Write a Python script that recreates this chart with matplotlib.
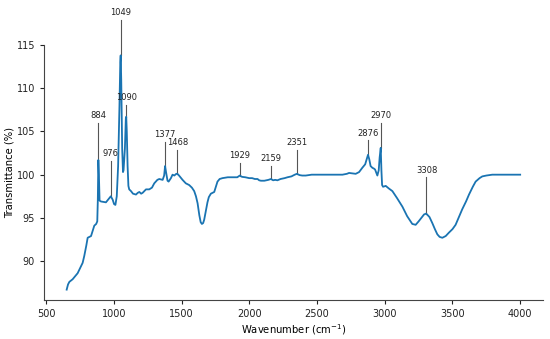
import numpy as np
import matplotlib
matplotlib.use("Agg")
import matplotlib.pyplot as plt

wavenumber = [650, 660, 670, 694, 731, 768, 780, 795, 805, 830, 854, 868, 876, 880, 884, 888, 893, 903,
              940, 960, 976, 990, 1000, 1010, 1020, 1030, 1040, 1046, 1049, 1053, 1060, 1066, 1070, 1080,
              1087, 1090, 1094, 1100, 1106, 1112, 1125, 1140, 1162, 1175, 1187, 1200, 1211, 1236, 1260,
              1280, 1297, 1320, 1334, 1359, 1370, 1377, 1385, 1395, 1403, 1420, 1432, 1445, 1460, 1468,
              1480, 1506, 1530, 1555, 1575, 1592, 1605, 1617, 1630, 1640, 1649, 1658, 1666, 1680, 1690,
              1700, 1715, 1740, 1752, 1764, 1780, 1801, 1840, 1875, 1910, 1929, 1945, 1970, 1998, 2020,
              2040, 2060, 2072, 2085, 2110, 2140, 2159, 2175, 2190, 2207, 2230, 2260, 2281, 2310, 2335,
              2351, 2370, 2390, 2416, 2440, 2460, 2490, 2550, 2600, 2650, 2687, 2720, 2736, 2760, 2785,
              2810, 2834, 2855, 2868, 2876, 2885, 2895, 2908, 2920, 2928, 2945, 2955, 2962, 2970, 2975,
              2980, 2987, 3007, 3030, 3056, 3090, 3130, 3165, 3203, 3228, 3250, 3265, 3290, 3306, 3330,
              3351, 3370, 3388, 3405, 3425, 3450, 3474, 3500, 3523, 3550, 3572, 3600, 3622, 3650, 3671,
              3700, 3720, 3750, 3794, 3850, 3900, 3950, 4000]
transmittance = [86.7, 87.3, 87.6, 87.9, 88.6, 89.8, 90.6, 91.8, 92.7, 92.9, 94.1, 94.3, 94.6, 97.0, 101.7,
                 100.0, 97.0, 96.9, 96.8, 97.2, 97.5, 97.1, 96.6, 96.5, 97.5, 101.0, 108.0, 113.0, 113.8,
                 111.0, 103.0, 100.3, 100.5, 103.0, 106.5, 106.7, 105.0, 101.0, 98.7, 98.3, 98.1, 97.8,
                 97.7, 97.9, 98.0, 97.8, 97.9, 98.3, 98.3, 98.5, 99.0, 99.4, 99.5, 99.4, 99.9, 101.0,
                 100.2, 99.3, 99.2, 99.6, 100.0, 99.9, 100.1, 100.1, 99.9, 99.4, 99.0, 98.8, 98.5, 98.1,
                 97.5, 96.7, 95.3, 94.5, 94.3, 94.4, 94.8, 96.0, 96.8, 97.4, 97.8, 98.0, 98.6, 99.2, 99.5,
                 99.6, 99.7, 99.7, 99.7, 99.9, 99.75, 99.7, 99.6, 99.6, 99.5, 99.5, 99.35, 99.3, 99.3,
                 99.4, 99.5, 99.35, 99.4, 99.35, 99.5, 99.6, 99.7, 99.8, 100.0, 100.1, 99.95, 99.9, 99.9,
                 99.95, 100.0, 100.0, 100.0, 100.0, 100.0, 100.0, 100.1, 100.2, 100.15, 100.1, 100.3,
                 100.8, 101.2, 101.9, 102.3, 101.8, 101.0, 100.8, 100.7, 100.6, 99.9, 100.5, 102.0, 103.1,
                 100.5, 98.8, 98.6, 98.7, 98.4, 98.1, 97.3, 96.3, 95.2, 94.3, 94.2, 94.6, 94.9, 95.4,
                 95.5, 95.1, 94.4, 93.7, 93.1, 92.8, 92.7, 92.9, 93.3, 93.7, 94.2, 95.2, 96.0, 96.9,
                 97.7, 98.6, 99.2, 99.6, 99.8, 99.9, 100.0, 100.0, 100.0, 100.0, 100.0]

peak_positions = [884, 976, 1049, 1090, 1377, 1468, 1929, 2159, 2351, 2876, 2970, 3308]
peak_labels = ["884", "976", "1049", "1090", "1377", "1468", "1929", "2159", "2351", "2876", "2970", "3308"]
label_heights = [106.0, 101.6, 117.9, 108.1, 103.8, 102.9, 101.4, 101.0, 102.9, 104.0, 106.0, 99.7]

fig = plt.figure(figsize=(5.5, 3.39), dpi=100)
top_px, bottom_px = 44.6, 300.0
ax = fig.add_axes([0.08, 1 - bottom_px / 339, 0.907, (bottom_px - top_px) / 339])

ax.plot(wavenumber, transmittance, color="#1a74b2", lw=1.3, zorder=3)

for pos, lab, top in zip(peak_positions, peak_labels, label_heights):
    base = float(np.interp(pos, wavenumber, transmittance))
    ax.plot([pos, pos], [base, top], color="#555555", lw=0.8, zorder=2, clip_on=False)
    ax.text(pos, top + 0.3, lab, ha="center", va="bottom", fontsize=6, color="#222222",
            clip_on=False)

ax.set_xlim(482.5, 4167.5)
ax.set_ylim(85.5, 115.05)
ax.set_xticks([500, 1000, 1500, 2000, 2500, 3000, 3500, 4000])
ax.set_yticks([90, 95, 100, 105, 110, 115])
ax.tick_params(labelsize=7, length=3, width=0.8, colors="#222222")
for s in ["top", "right"]:
    ax.spines[s].set_visible(False)
for s in ["left", "bottom"]:
    ax.spines[s].set_linewidth(0.8)
    ax.spines[s].set_color("#444444")

ax.set_xlabel("Wavenumber (cm$^{-1}$)", fontsize=7.2, labelpad=2)
ax.set_ylabel("Transmittance (%)", fontsize=7.2, labelpad=1)

fig.savefig("out.png", dpi=100)
